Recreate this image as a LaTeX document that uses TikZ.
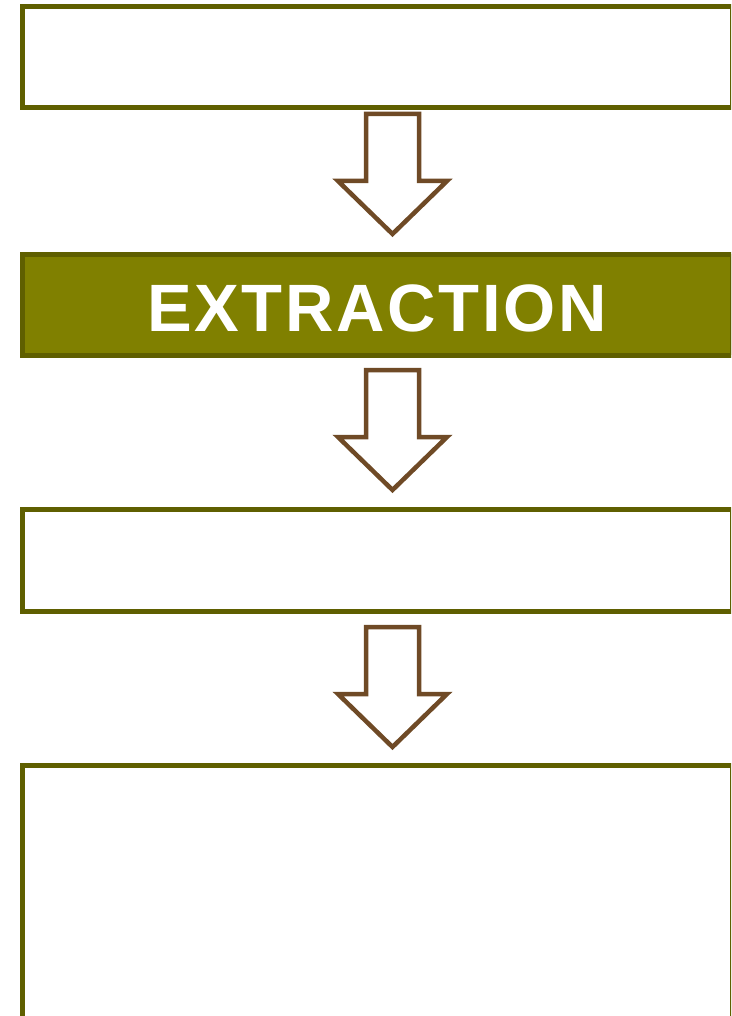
\documentclass[tikz,border=0pt]{standalone}
\usepackage{fontspec}
\setmainfont{Liberation Sans}
\definecolor{boxline}{RGB}{95,95,0}
\definecolor{boxfill}{RGB}{128,128,0}
\definecolor{arrowline}{RGB}{111,74,38}
\newcommand{\myblockarrow}[2]{%
  \draw[flowarrow] (#1-26.5,#2) -- (#1+26.5,#2) -- (#1+26.5,#2+67) -- (#1+54.5,#2+67)
    -- (#1,#2+120) -- (#1-54.5,#2+67) -- (#1-26.5,#2+67) -- cycle;}
\begin{document}
\begin{tikzpicture}[x=1pt,y=-1pt,
  box/.style={draw=boxline, line width=5pt, fill=white, rectangle, minimum width=710pt, inner sep=0pt, outer sep=0pt},
  flowarrow/.style={draw=arrowline, line width=4.5pt, fill=white, line join=miter}]
\useasboundingbox (0,0) rectangle (731,1016);
\clip (0,0) rectangle (731,1016);
\fill[white] (0,0) rectangle (731,1016);
\node[box, minimum height=101pt] (b1) at (377,57) {};
\node[box, minimum height=101pt, fill=boxfill] (b2) at (377,304.5) {};
\node[text=white, font=\bfseries\fontsize{67}{67}\selectfont\addfontfeature{LetterSpace=4}, inner sep=0pt, anchor=base] (t2) at (377,331) {EXTRACTION};
\node[box, minimum height=101.5pt] (b3) at (377,560.25) {};
\node[box, minimum height=260pt] (b4) at (377,895) {};
\myblockarrow{392.5}{114}
\myblockarrow{392.5}{370}
\myblockarrow{392.5}{627}
\end{tikzpicture}
\end{document}
